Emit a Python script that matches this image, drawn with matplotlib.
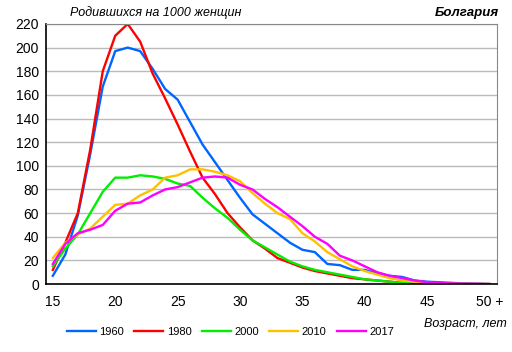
import numpy as np
import matplotlib
matplotlib.use('Agg')
import matplotlib.pyplot as plt

plt.rcParams['font.family'] = ['Liberation Sans', 'DejaVu Sans']

ages = list(range(15, 51))

# births per 1000 women, by single year of age
y1960 = [7, 25, 58, 110, 167, 197, 200, 197, 182, 165, 156, 137, 118, 103, 88, 73,
         59, 51, 43, 35, 29, 27, 17, 16, 12, 12, 9, 7, 6, 3, 2, 1.5, 1, 0.5, 0.3, 0]
y1980 = [12, 35, 60, 114, 180, 210, 220, 205, 178, 157, 135, 112, 90, 76, 60, 48,
         37, 30, 22, 18, 14, 11, 9, 7, 5, 4, 3, 2, 1, 0.5, 0.3, 0.2, 0.1, 0, 0, 0]
y2000 = [15, 30, 42, 60, 78, 90, 90, 92, 91, 89, 85, 83, 73, 64, 56, 46,
         37, 31, 25, 19, 15, 12, 10, 8, 6, 4, 3, 2, 1, 0.5, 0.2, 0.1, 0, 0, 0, 0]
y2010 = [22, 35, 42, 47, 57, 67, 68, 75, 80, 90, 92, 97, 97, 95, 92, 87,
         77, 68, 60, 55, 43, 36, 27, 21, 15, 11, 8, 5, 3, 2, 1, 0.5, 0.3, 0.2, 0.1, 0]
y2017 = [17, 34, 43, 46, 50, 62, 68, 69, 75, 80, 82, 86, 90, 91, 90, 84,
         80, 72, 65, 57, 49, 40, 34, 24, 20, 15, 10, 7, 5, 3, 1.5, 1, 0.5, 0.3, 0.2, 0]

series = [('1960', y1960, '#0066ff'),
          ('1980', y1980, '#ff0000'),
          ('2000', y2000, '#00ee00'),
          ('2010', y2010, '#ffc000'),
          ('2017', y2017, '#ff00ff')]

xticks = [15, 20, 25, 30, 35, 40, 45, 50]
xticklabels = ['15', '20', '25', '30', '35', '40', '45', '50 +']
yticks = list(range(0, 221, 20))

fig = plt.figure(figsize=(5.12, 3.52), dpi=100)
ax = fig.add_axes([0.0898, 0.193, 0.881, 0.739])

for name, vals, col in series:
    ax.plot(ages, vals, color=col, lw=1.7, label=name)

ax.set_xlim(14.45, 50.6)
ax.set_ylim(0, 220)
ax.set_xticks(xticks)
ax.set_xticklabels(xticklabels)
ax.set_yticks(yticks)
ax.tick_params(length=0, labelsize=10, pad=5)
ax.tick_params(axis='x', pad=8)
ax.grid(axis='y', color='#bbbbbb', lw=1)
ax.set_axisbelow(True)
for s in ['top', 'right']:
    ax.spines[s].set_color('#888888')
for s in ['left', 'bottom']:
    ax.spines[s].set_color('black')
    ax.spines[s].set_linewidth(1.2)

fig.text(0.137, 0.955, 'Родившихся на 1000 женщин', fontsize=9, style='italic')
fig.text(0.975, 0.955, 'Болгария', fontsize=9.5, style='italic', weight='bold', ha='right')
fig.text(0.99, 0.07, 'Возраст, лет', fontsize=9, style='italic', ha='right')

fig.legend(loc='center', bbox_to_anchor=(0.45, 0.058), ncol=5, frameon=False,
           fontsize=8, handlelength=2.6, columnspacing=0.9, handletextpad=0.35)

fig.savefig('out.png', dpi=100)
